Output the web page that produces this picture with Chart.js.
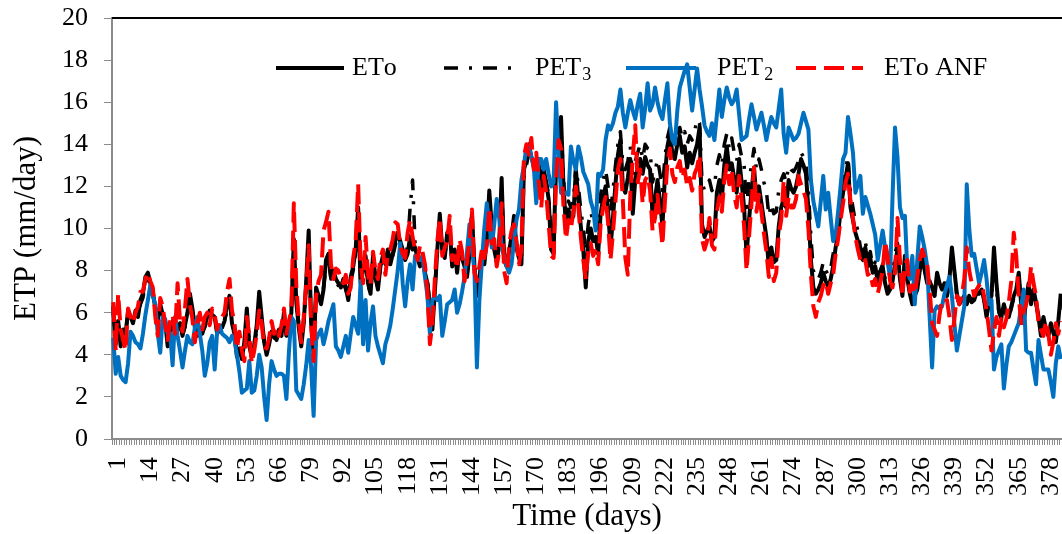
<!DOCTYPE html>
<html>
<head>
<meta charset="utf-8">
<script src="https://cdn.jsdelivr.net/npm/chart.js@4.4.1/dist/chart.umd.min.js"></script>
<style>
  html, body { margin: 0; padding: 0; background: #fff; overflow: hidden; }
  #wrap { position: relative; width: 1062px; height: 534px; }
</style>
</head>
<body>
<div id="wrap"><canvas id="chart-etp"></canvas></div>
<script>
// days on the x axis (1 .. 384), a label every 13th day
var days = [];
for (var d = 1; d <= 384; d++) days.push(d);
var labelStep = 13;

// ETo (black solid)
var eto = [
  6.3, 4.5, 5.6, 4.4, 5.2, 5.0, 6.1, 5.8, 5.5, 6.1, 5.8, 6.6,
  6.9, 7.7, 7.9, 7.4, 7.0, 6.2, 5.6, 6.4, 5.9, 5.6, 4.4, 5.3,
  5.6, 4.9, 5.2, 5.5, 4.9, 5.4, 6.0, 6.9, 6.2, 5.3, 4.9, 5.3,
  5.0, 5.4, 5.8, 6.1, 5.9, 5.8, 5.0, 5.2, 5.3, 5.6, 6.4, 6.8,
  5.5, 5.0, 3.9, 4.3, 3.8, 4.6, 6.2, 4.4, 3.9, 4.5, 5.4, 7.0,
  5.8, 4.6, 4.0, 4.5, 5.1, 4.9, 4.7, 5.2, 4.9, 6.0, 4.9, 5.2,
  6.0, 9.5, 6.5, 5.3, 4.4, 5.5, 7.5, 9.9, 5.5, 4.0, 7.2, 6.8,
  6.4, 7.1, 8.5, 8.8, 7.7, 8.0, 7.6, 7.4, 7.2, 7.6, 7.2, 6.6,
  7.7, 8.2, 9.0, 11.0, 7.4, 8.0, 8.7, 7.4, 6.9, 8.7, 7.7, 7.1,
  8.2, 8.7, 8.4, 9.0, 8.3, 8.8, 9.4, 9.8, 9.4, 9.0, 8.5, 8.8,
  9.6, 9.0, 9.1, 8.6, 8.2, 8.5, 7.9, 7.4, 6.2, 5.2, 7.0, 9.0,
  10.7, 9.0, 8.6, 9.8, 10.0, 8.2, 9.0, 7.9, 9.1, 8.6, 8.2, 7.7,
  8.8, 10.7, 8.2, 6.8, 7.6, 8.8, 8.3, 9.5, 11.8, 10.1, 9.0, 8.4,
  9.2, 12.4, 8.5, 8.2, 8.9, 9.6, 10.6, 9.1, 8.6, 8.3, 12.8, 13.2,
  14.0, 13.4, 13.0, 13.1, 13.3, 11.7, 12.8, 12.2, 11.4, 9.0, 8.8, 13.3,
  13.0, 15.3, 12.0, 10.1, 10.9, 10.4, 10.6, 12.8, 11.4, 10.1, 9.0, 7.2,
  9.4, 10.0, 9.4, 9.6, 8.8, 10.7, 11.4, 12.0, 10.9, 9.1, 10.5, 12.1,
  13.5, 14.2, 12.0, 11.7, 12.4, 13.3, 10.7, 12.3, 12.9, 13.3, 12.6, 13.4,
  13.0, 12.8, 10.6, 11.4, 12.3, 11.3, 10.1, 12.5, 13.9, 14.5, 13.6, 13.3,
  14.0, 14.4, 13.6, 13.9, 12.9, 13.6, 13.1, 13.6, 14.0, 14.8, 10.2, 9.6,
  9.9, 10.1, 9.4, 9.6, 11.7, 12.3, 11.4, 13.0, 13.9, 12.8, 13.1, 12.4,
  11.7, 13.3, 12.2, 11.0, 8.7, 10.4, 11.8, 12.9, 11.4, 12.0, 11.2, 10.4,
  9.6, 8.2, 9.1, 8.4, 8.5, 10.1, 11.0, 11.4, 11.0, 12.3, 11.9, 11.7,
  12.0, 12.6, 13.3, 13.0, 12.6, 10.9, 8.5, 7.2, 6.9, 7.1, 7.4, 7.9,
  7.5, 7.2, 7.6, 8.2, 9.1, 9.7, 10.9, 11.7, 12.4, 13.1, 11.0, 10.4,
  9.8, 9.4, 8.7, 8.5, 9.1, 8.2, 8.6, 7.9, 8.2, 7.5, 7.8, 8.2,
  7.4, 6.9, 7.1, 7.5, 8.3, 9.0, 7.6, 6.8, 8.7, 7.6, 6.9, 6.4,
  6.8, 7.1, 8.0, 8.7, 8.0, 7.4, 7.5, 7.2, 6.8, 7.9, 7.4, 7.1,
  7.4, 6.8, 7.6, 9.1, 8.0, 6.9, 6.4, 6.6, 6.8, 6.4, 6.8, 6.5,
  6.6, 7.0, 6.9, 7.1, 6.6, 5.8, 6.5, 6.8, 9.1, 7.4, 6.1, 5.8,
  6.4, 5.9, 5.8, 6.3, 6.8, 7.1, 7.9, 6.4, 5.5, 6.6, 7.4, 6.4,
  7.1, 6.5, 5.8, 4.9, 5.8, 5.2, 4.9, 5.5, 5.1, 4.6, 5.6, 6.9
];

// PET3 (black dash-dot)
var pet3 = [
  6.0, 4.8, 5.5, 4.6, 5.0, 5.1, 5.9, 5.7, 5.6, 6.0, 5.9, 6.4,
  6.7, 7.4, 7.7, 7.3, 6.9, 6.1, 5.7, 6.2, 5.8, 5.5, 4.7, 5.2,
  5.4, 5.0, 5.3, 5.4, 5.0, 5.3, 5.9, 6.6, 6.0, 5.4, 5.0, 5.2,
  5.1, 5.3, 5.7, 6.0, 5.8, 5.7, 5.1, 5.2, 5.3, 5.5, 6.2, 6.5,
  5.6, 5.1, 4.1, 4.4, 4.0, 4.5, 5.9, 4.6, 4.0, 4.4, 5.2, 6.6,
  5.6, 4.7, 4.2, 4.6, 5.0, 4.8, 4.8, 5.1, 5.0, 5.8, 5.0, 5.4,
  6.1, 9.0, 6.6, 5.5, 4.7, 5.6, 7.2, 9.3, 5.7, 4.3, 7.0, 6.9,
  6.6, 7.2, 8.2, 8.5, 7.6, 7.8, 7.4, 7.3, 7.0, 7.4, 7.1, 6.6,
  7.5, 8.0, 8.8, 10.6, 7.5, 7.9, 8.5, 7.3, 6.9, 8.4, 7.6, 7.2,
  8.1, 8.5, 8.3, 8.8, 8.2, 8.7, 9.2, 9.6, 9.3, 9.0, 8.6, 9.2,
  11.0, 12.3, 9.3, 8.7, 8.3, 8.5, 8.0, 7.5, 6.4, 5.6, 7.2, 8.9,
  10.4, 9.0, 8.7, 9.6, 9.8, 8.3, 8.9, 8.0, 9.0, 8.6, 8.2, 7.8,
  8.8, 10.4, 8.3, 7.0, 7.7, 8.7, 8.4, 9.5, 11.4, 10.0, 9.1, 8.5,
  9.2, 12.0, 8.7, 8.3, 9.0, 9.6, 10.4, 9.3, 8.7, 8.6, 12.5, 13.0,
  13.6, 13.2, 12.9, 13.0, 13.1, 11.9, 12.6, 12.2, 11.6, 9.6, 9.4, 13.0,
  13.2, 14.8, 12.4, 10.8, 11.3, 11.0, 11.3, 13.0, 12.0, 10.9, 10.0, 8.9,
  10.2, 10.8, 10.3, 10.6, 10.0, 11.6, 12.3, 12.8, 12.0, 10.8, 11.8, 13.0,
  14.0, 14.6, 13.0, 12.8, 13.2, 13.9, 12.3, 13.2, 13.6, 14.0, 13.3, 14.0,
  13.8, 13.7, 12.2, 12.7, 13.3, 12.6, 11.8, 13.4, 14.3, 14.8, 14.2, 14.0,
  14.5, 14.8, 14.3, 14.6, 14.0, 14.4, 14.2, 14.6, 15.2, 15.0, 12.2, 11.8,
  12.0, 12.3, 11.8, 12.0, 13.0, 13.5, 13.0, 14.0, 14.5, 13.8, 14.3, 13.6,
  13.2, 14.0, 13.4, 13.0, 11.0, 12.3, 13.0, 13.8, 12.8, 13.3, 12.8, 12.2,
  11.8, 10.6, 11.2, 10.7, 10.8, 11.8, 12.3, 12.6, 12.2, 13.0, 12.8, 12.7,
  12.9, 13.2, 13.6, 13.4, 13.1, 11.8, 9.6, 8.0, 7.6, 7.6, 7.9, 8.4,
  8.0, 7.8, 8.1, 8.8, 9.7, 10.3, 11.4, 12.2, 12.8, 13.4, 11.7, 11.0,
  10.3, 9.9, 9.1, 8.9, 9.4, 8.6, 8.9, 8.2, 8.4, 7.8, 8.0, 8.3,
  7.6, 7.1, 7.3, 7.8, 8.8, 9.3, 7.9, 7.0, 8.6, 7.7, 7.0, 6.5,
  6.9, 7.2, 8.1, 8.6, 8.0, 7.5, 7.4, 7.0, 6.8, 7.7, 7.3, 7.0,
  7.3, 6.8, 7.4, 8.8, 7.9, 6.8, 6.4, 6.5, 6.8, 6.7, 6.9, 6.6,
  6.7, 6.9, 6.9, 7.0, 6.6, 5.9, 6.4, 6.7, 8.8, 7.2, 6.0, 5.7,
  6.2, 5.8, 5.8, 6.2, 6.7, 7.0, 7.7, 6.3, 5.6, 6.4, 7.2, 6.3,
  6.9, 6.4, 5.8, 5.0, 5.7, 5.2, 5.0, 5.4, 5.0, 4.7, 5.5, 6.6
];

// PET2 (blue solid)
var pet2 = [
  4.8, 3.1, 3.9, 3.0, 2.8, 2.7, 3.6, 5.1, 4.9, 4.6, 4.5, 4.3,
  5.0, 5.9, 6.6, 7.3, 6.8, 6.4, 5.0, 4.1, 5.8, 5.7, 5.0, 5.0,
  3.5, 5.8, 4.9, 4.2, 3.4, 4.2, 4.9, 4.6, 4.5, 5.3, 5.8, 5.0,
  4.2, 3.0, 3.6, 4.6, 4.9, 3.3, 5.1, 5.4, 5.0, 4.9, 4.8, 4.6,
  4.9, 4.7, 4.0, 3.2, 2.2, 2.3, 2.4, 3.7, 2.2, 2.3, 3.0, 4.0,
  3.4, 2.0, 0.9, 2.6, 3.7, 3.3, 3.0, 3.1, 3.1, 3.0, 1.9, 4.1,
  5.8, 5.6, 2.3, 2.1, 1.9, 2.6, 3.5, 4.7, 3.4, 1.1, 4.7, 5.0,
  5.2, 4.5, 5.0, 5.6, 6.0, 6.4, 4.4, 4.2, 3.9, 4.4, 4.9, 4.1,
  5.0, 5.8, 5.4, 5.0, 7.5, 4.5, 6.6, 4.2, 5.5, 6.3, 4.9, 4.4,
  4.0, 3.6, 4.5, 4.9, 5.4, 6.2, 7.1, 8.0, 9.3, 7.4, 6.3, 7.5,
  8.3, 7.1, 8.7, 8.7, 8.5, 8.7, 7.7, 6.8, 5.0, 6.6, 6.8, 6.6,
  6.8, 4.9, 5.6, 6.4, 6.5, 6.6, 7.1, 6.0, 6.4, 7.0, 7.7, 8.9,
  10.2, 9.0, 8.0, 3.4, 6.6, 8.4, 10.0, 11.2, 10.3, 9.1, 10.2, 11.4,
  10.5, 9.1, 8.7, 8.2, 7.9, 8.3, 9.4, 10.4, 10.9, 12.3, 13.0, 13.9,
  13.9, 13.4, 12.9, 11.2, 13.3, 13.3, 12.8, 13.3, 12.6, 12.0, 12.2, 16.0,
  13.5, 11.7, 11.6, 11.7, 11.6, 13.9, 13.2, 12.8, 13.9, 13.4, 12.7, 12.4,
  12.1, 11.3, 10.9, 9.9, 12.6, 12.5, 12.8, 14.2, 14.9, 14.7, 15.0, 15.5,
  15.8, 16.6, 15.5, 14.8, 15.5, 16.1, 15.6, 15.2, 15.9, 16.4, 14.8, 15.7,
  16.9, 15.6, 15.9, 16.7, 16.0, 15.5, 15.2, 16.1, 16.9, 15.0, 14.2, 14.0,
  15.6, 16.7, 17.1, 17.5, 17.8, 16.7, 15.6, 16.6, 17.6, 16.6, 15.8, 14.9,
  14.6, 14.4, 15.0, 14.2, 15.4, 16.6, 15.3, 16.1, 16.7, 16.2, 15.9, 16.1,
  16.6, 15.4, 14.2, 14.3, 14.4, 15.2, 15.9, 15.3, 14.7, 15.1, 15.5, 14.9,
  14.2, 14.8, 15.3, 15.0, 14.8, 15.7, 16.6, 14.5, 13.6, 14.8, 14.5, 14.2,
  14.3, 14.5, 15.0, 15.5, 15.1, 14.7, 12.3, 11.3, 10.7, 10.1, 11.3, 12.5,
  10.9, 11.7, 10.5, 9.4, 9.7, 10.8, 12.0, 13.3, 13.6, 15.3, 14.5, 13.6,
  11.7, 12.1, 12.5, 10.7, 11.5, 11.1, 10.7, 10.2, 9.7, 8.5, 9.2, 9.9,
  9.1, 8.4, 7.7, 11.5, 14.8, 13.4, 11.0, 10.5, 10.6, 8.0, 7.6, 8.7,
  6.4, 8.5, 10.1, 9.6, 9.0, 8.2, 5.8, 3.4, 6.1, 6.3, 6.2, 6.3,
  6.9, 7.3, 7.7, 6.8, 5.5, 4.2, 4.9, 5.6, 6.3, 12.1, 10.0, 8.7,
  8.8, 8.1, 7.4, 7.9, 8.5, 7.6, 6.4, 6.6, 3.3, 3.9, 4.2, 4.5,
  2.4, 3.5, 4.4, 4.6, 4.9, 5.2, 5.5, 6.3, 7.1, 4.2, 4.1, 4.1,
  3.3, 2.6, 4.7, 4.0, 3.3, 3.3, 3.3, 2.7, 2.0, 3.6, 4.4, 3.8
];

// ETo ANF (red dashed)
var etoAnf = [
  6.5, 4.2, 6.9, 5.2, 4.7, 4.2, 6.2, 5.8, 5.5, 6.0, 6.3, 7.0,
  7.0, 7.6, 7.9, 7.5, 7.2, 5.8, 4.9, 6.7, 6.3, 5.4, 4.7, 5.6,
  5.9, 5.0, 7.4, 5.6, 5.1, 6.2, 7.6, 6.4, 5.7, 4.6, 5.5, 6.0,
  5.2, 5.8, 6.0, 5.4, 6.2, 5.9, 5.2, 5.7, 5.8, 6.0, 7.0, 7.6,
  6.1, 5.5, 4.3, 5.1, 4.2, 3.7, 5.8, 4.9, 3.6, 4.2, 5.0, 6.1,
  5.5, 4.4, 4.3, 4.8, 5.6, 5.0, 5.3, 4.9, 5.4, 6.2, 5.0, 5.6,
  6.1, 11.2, 7.3, 5.6, 4.6, 5.8, 7.3, 9.2, 5.4, 3.7, 6.8, 7.5,
  7.8, 9.9, 10.3, 10.8, 8.3, 7.6, 8.1, 8.0, 7.6, 7.4, 7.8, 6.9,
  7.2, 8.6, 9.4, 12.1, 8.3, 7.4, 9.6, 7.8, 7.3, 8.9, 8.0, 7.6,
  8.6, 9.0, 7.8, 8.8, 9.0, 9.5, 10.3, 10.2, 9.2, 8.8, 8.6, 9.8,
  10.4, 9.6, 9.0, 8.5, 9.2, 8.9, 8.3, 7.0, 4.5, 5.5, 7.6, 9.4,
  10.5, 8.7, 9.1, 9.4, 10.6, 8.5, 8.7, 8.1, 9.5, 8.9, 7.5, 8.4,
  9.4, 10.9, 7.9, 7.5, 8.2, 9.0, 8.6, 9.2, 11.0, 9.3, 9.5, 8.2,
  8.9, 11.2, 8.0, 7.4, 9.2, 9.9, 10.2, 9.4, 8.3, 9.0, 13.4, 14.0,
  13.5, 14.3, 12.8, 13.6, 12.2, 11.0, 12.5, 11.7, 10.2, 8.7, 8.6, 12.3,
  14.2, 13.8, 11.0, 9.5, 10.4, 10.0, 10.8, 12.0, 11.0, 9.6, 8.5, 7.6,
  8.9, 9.3, 8.7, 9.0, 8.3, 10.2, 11.0, 11.5, 10.3, 8.5, 9.8, 11.3,
  12.8, 13.3, 11.3, 8.6, 7.8, 11.6, 13.4, 14.9, 12.2, 12.8, 11.2, 12.3,
  12.5, 11.8, 9.9, 10.5, 11.6, 10.4, 9.2, 11.3, 13.1, 13.8, 12.6, 12.2,
  12.9, 13.2, 12.4, 12.8, 12.0, 12.4, 11.8, 12.6, 12.9, 13.5, 9.5, 9.0,
  9.4, 10.5, 9.2, 9.0, 10.8, 11.5, 10.8, 12.3, 13.0, 12.1, 12.8, 11.6,
  11.0, 12.5, 11.4, 10.1, 8.0, 9.6, 11.2, 12.9, 10.8, 11.6, 10.8, 9.8,
  8.9, 7.7, 8.6, 7.5, 7.9, 9.7, 10.4, 12.3, 10.6, 11.5, 11.0, 11.0,
  11.4, 12.5, 12.1, 11.8, 11.4, 10.0, 7.8, 6.3, 5.8, 6.5, 6.8, 7.3,
  7.5, 6.9, 7.4, 7.8, 8.8, 9.5, 10.4, 11.2, 12.2, 12.6, 11.3, 10.5,
  9.6, 9.0, 8.5, 8.3, 8.5, 7.8, 7.9, 7.3, 7.6, 6.9, 7.4, 8.0,
  9.4, 8.7, 7.5, 7.2, 7.9, 10.5, 8.5, 6.8, 8.3, 8.5, 7.0, 7.3,
  6.9, 7.7, 8.5, 9.0, 8.6, 8.3, 7.1, 5.5, 5.2, 4.9, 5.9, 6.6,
  6.5, 6.6, 5.8, 4.7, 5.7, 6.8, 6.4, 6.8, 7.6, 9.1, 8.0, 7.4,
  6.8, 7.1, 7.3, 7.4, 6.8, 6.1, 5.2, 4.2, 5.1, 5.8, 4.9, 5.7,
  5.3, 5.7, 6.5, 7.5, 9.8, 8.7, 6.8, 5.5, 6.1, 6.4, 7.0, 8.2,
  7.4, 6.8, 5.5, 5.2, 4.9, 5.6, 5.0, 4.0, 4.6, 5.5, 5.0, 5.6
];

var serif = '"Liberation Serif", "Times New Roman", serif';
var axisGray = '#8c8c8c';

// top frame line + legend drawn inside the plot, Excel style
var frameAndLegend = {
  id: 'frameAndLegend',
  afterDatasetsDraw: function(chart) {
    var c = chart.ctx, area = chart.chartArea;
    c.save();
    c.strokeStyle = '#000';
    c.lineWidth = 2;
    c.beginPath();
    c.moveTo(area.left, area.top);
    c.lineTo(area.right, area.top);
    c.stroke();

    // [sample start, sample end, text x]
    var spots = [[276, 344, 352], [444, 514, 535], [626, 696, 717], [796, 863, 884]];
    var y = 68;
    chart.data.datasets.forEach(function(ds, i) {
      var s = spots[i];
      c.strokeStyle = ds.borderColor;
      c.lineWidth = ds.borderWidth;
      c.setLineDash(ds.borderDash || []);
      c.beginPath();
      c.moveTo(s[0], y);
      c.lineTo(s[1], y);
      c.stroke();
      c.setLineDash([]);
      // text with optional subscript digits
      c.fillStyle = '#000';
      c.textBaseline = 'middle';
      var x = s[2];
      for (var k = 0; k < ds.label.length; k++) {
        var ch = ds.label[k];
        var code = ch.charCodeAt(0);
        if (code >= 0x2080 && code <= 0x2089) {
          c.font = '18px ' + serif;
          var dig = String(code - 0x2080);
          c.fillText(dig, x + 1, y + 7);
          x += c.measureText(dig).width + 1;
        } else {
          c.font = '26px ' + serif;
          c.fillText(ch, x, y);
          x += c.measureText(ch).width;
        }
      }
    });
    c.restore();
  }
};

var ctx = document.getElementById('chart-etp');
var etpChart = new Chart(ctx, {
  type: 'line',
  data: {
    labels: days,
    datasets: [
      { label: 'ETo', data: eto, borderColor: '#000000', borderWidth: 4, order: 4 },
      { label: 'PET\u2083', data: pet3, borderColor: '#000000', borderWidth: 3.5, borderDash: [14, 11, 3, 11], order: 3 },
      { label: 'PET\u2082', data: pet2, borderColor: '#0070C0', borderWidth: 4, order: 2 },
      { label: 'ETo ANF', data: etoAnf, borderColor: '#FF0000', borderWidth: 4, borderDash: [20, 8], order: 1 }
    ]
  },
  options: {
    responsive: true,
    maintainAspectRatio: false,
    animation: false,
    layout: { padding: { top: 18, left: 0, right: 0, bottom: 0 } },
    elements: {
      point: { radius: 0, hoverRadius: 0 },
      line: { tension: 0, borderJoinStyle: 'round', fill: false }
    },
    plugins: { legend: { display: false }, tooltip: { enabled: false } },
    scales: {
      x: {
        type: 'category',
        offset: true,
        grid: { drawOnChartArea: false, offset: true, tickLength: 6, color: axisGray, lineWidth: 1 },
        border: { color: axisGray, width: 2 },
        ticks: {
          autoSkip: false,
          maxRotation: 90,
          minRotation: 90,
          padding: 12,
          labelOffset: 5,
          color: '#000',
          font: { family: serif, size: 26 },
          callback: function(v, i) { return i % labelStep === 0 ? String(days[i]) : ''; }
        },
        title: {
          display: true,
          text: 'Time (days)',
          color: '#000',
          font: { family: serif, size: 31, lineHeight: 1.1 },
          padding: { top: 0, bottom: 0 }
        },
        afterFit: function(s) { s.height = 95; s.paddingLeft = 0; s.paddingRight = 0; }
      },
      y: {
        min: 0,
        max: 20,
        ticks: { stepSize: 2, padding: 16, color: '#000', font: { family: serif, size: 26 } },
        grid: { drawOnChartArea: false, tickLength: 8, color: axisGray },
        border: { color: axisGray, width: 2 },
        title: {
          display: true,
          text: 'ETP (mm/day)',
          color: '#000',
          font: { family: serif, size: 31, lineHeight: 1.1 },
          padding: { top: 10, bottom: 0 }
        },
        afterFit: function(s) { s.width = 112; s.paddingTop = 0; s.paddingBottom = 0; }
      }
    }
  },
  plugins: [frameAndLegend]
});
</script>
</body>
</html>
